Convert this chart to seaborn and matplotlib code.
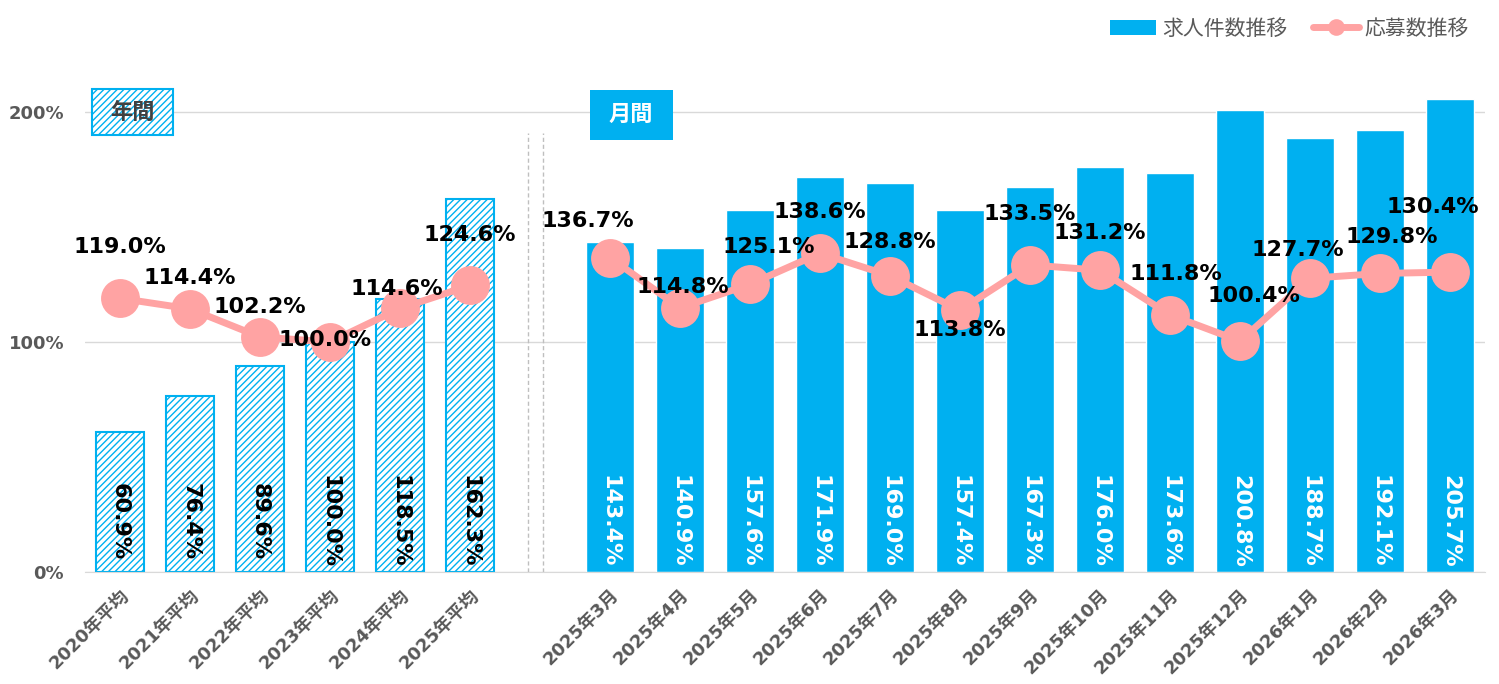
import seaborn as sns
import matplotlib.pyplot as plt
import matplotlib.transforms as mtransforms
import pandas as pd
import numpy as np
from matplotlib.patches import Patch, Rectangle
from matplotlib.lines import Line2D

# data
annual_labels = ["2020年平均", "2021年平均", "2022年平均", "2023年平均", "2024年平均", "2025年平均"]
monthly_labels = ["2025年3月", "2025年4月", "2025年5月", "2025年6月", "2025年7月", "2025年8月",
                  "2025年9月", "2025年10月", "2025年11月", "2025年12月", "2026年1月", "2026年2月", "2026年3月"]
annual_jobs = [60.9, 76.4, 89.6, 100.0, 118.5, 162.3]
annual_apps = [119.0, 114.4, 102.2, 100.0, 114.6, 124.6]
monthly_jobs = [143.4, 140.9, 157.6, 171.9, 169.0, 157.4, 167.3, 176.0, 173.6, 200.8, 188.7, 192.1, 205.7]
monthly_apps = [136.7, 114.8, 125.1, 138.6, 128.8, 113.8, 133.5, 131.2, 111.8, 100.4, 127.7, 129.8, 130.4]

# label offsets for line labels (pixels, label minus marker)
annual_offsets = [(0, 51), (0, 31), (0, 30), (-5, 2), (-3, 19), (0, 50)]
monthly_offsets = [(-22, 37), (3, 21), (19, 37), (0, 41), (0, 34), (0, -20), (0, 51),
                   (0, 37), (6, 41), (14, 45), (-12, 28), (12, 36), (-17, 65)]

BLUE = "#00B0F0"
PINK = "#FFA3A3"
GRAY = "#595959"

sns.set_style("white")
plt.rcParams['font.family'] = ['DejaVu Sans', 'Noto Sans CJK JP']
plt.rcParams['hatch.linewidth'] = 1.0
plt.rcParams['hatch.color'] = BLUE

periods = annual_labels + [""] + monthly_labels
bars = pd.DataFrame({
    "period": periods,
    "jobs": annual_jobs + [np.nan] + monthly_jobs,
})
n_ann = len(annual_labels)
line = pd.DataFrame({
    "pos": list(range(n_ann)) + list(range(n_ann + 1, len(periods))),
    "apps": annual_apps + monthly_apps,
    "seg": ["a"] * n_ann + ["m"] * len(monthly_labels),
})

W, H = 1499, 684
fig = plt.figure(figsize=(W / 100, H / 100), dpi=100)
ax = fig.add_axes([85 / W, 112 / H, 1400 / W, 529 / H])

sns.barplot(data=bars, x="period", y="jobs", order=periods, color=BLUE,
            saturation=1, width=0.68, ax=ax, zorder=2)

for p in ax.patches:
    i = int(round(p.get_x() + p.get_width() / 2))
    if i < n_ann:
        p.set_facecolor("white")
        p.set_edgecolor(BLUE)
        p.set_hatch("/////")
        p.set_linewidth(1.5)

# bar value labels
for i, v in enumerate(annual_jobs):
    ax.text(i, 22, f"{v:.1f}%", rotation=270, ha="center", va="center",
            fontsize=16, fontweight="bold", color="black", zorder=5)
for j, v in enumerate(monthly_jobs):
    ax.text(n_ann + 1 + j, 22, f"{v:.1f}%", rotation=270, ha="center", va="center",
            fontsize=16, fontweight="bold", color="white", zorder=5)

sns.lineplot(data=line, x="pos", y="apps", units="seg", estimator=None,
             color=PINK, lw=5, marker="o", markersize=28, markeredgewidth=0,
             legend=False, ax=ax, zorder=4)

offsets = annual_offsets + monthly_offsets
for (x, y), (dx, dy) in zip(zip(line["pos"], line["apps"]), offsets):
    ax.annotate(f"{y:.1f}%", (x, y), xytext=(dx * 0.72, dy * 0.72),
                textcoords="offset points", ha="center", va="center",
                fontsize=16, fontweight="bold", color="black", zorder=6)

# separators
for xv in (5.83, 6.04):
    ax.plot([xv, xv], [0, 191], ls=(0, (3, 2)), color="#BFBFBF", lw=1, zorder=1)

ax.set_xlim(-0.5, len(periods) - 0.5)
ax.set_ylim(0, 230)
ax.set_yticks([0, 100, 200])
ax.set_yticklabels(["0%", "100%", "200%"], fontsize=13, fontweight="bold", color=GRAY)
ax.set_xticks(range(len(periods)))
ax.set_xticklabels(periods, rotation=45, ha="right", rotation_mode="anchor",
                   fontsize=13, fontweight="bold", color=GRAY)
shift = mtransforms.ScaledTranslation(0.1, 0, fig.dpi_scale_trans)
for lbl in ax.get_xticklabels():
    lbl.set_transform(lbl.get_transform() + shift)
ax.tick_params(axis="both", length=0)
ax.tick_params(axis="y", pad=15)
ax.tick_params(axis="x", pad=10)
ax.set_xlabel("")
ax.set_ylabel("")
ax.yaxis.grid(True, color="#D9D9D9", lw=1, zorder=0)
ax.set_axisbelow(True)
for s in ["top", "right", "left"]:
    ax.spines[s].set_visible(False)
ax.spines["bottom"].set_color("#D9D9D9")

# section boxes
fig.patches.append(Rectangle((92 / W, 1 - 135 / H), 81 / W, 46 / H, transform=fig.transFigure,
                             facecolor="white", edgecolor=BLUE, hatch="/////", lw=1.5, zorder=5))
fig.text(132 / W, 1 - 112 / H, "年間", ha="center", va="center", fontsize=16,
         fontweight="bold", color="#404040", zorder=6)
fig.patches.append(Rectangle((590 / W, 1 - 140 / H), 83 / W, 50 / H, transform=fig.transFigure,
                             facecolor=BLUE, edgecolor="none", zorder=5))
fig.text(631 / W, 1 - 115 / H, "月間", ha="center", va="center", fontsize=16,
         fontweight="bold", color="white", zorder=6)

handles = [Patch(facecolor=BLUE, edgecolor="none"),
           Line2D([0], [0], color=PINK, lw=5, marker="o", markersize=12, markeredgewidth=0)]
fig.legend(handles, ["求人件数推移", "応募数推移"], loc="upper right", ncol=2,
           bbox_to_anchor=(1488 / W, 1.0), frameon=False, fontsize=15,
           labelcolor=GRAY, handlelength=2.2, columnspacing=1.2, handletextpad=0.3)

plt.savefig("out.png", dpi=100)
